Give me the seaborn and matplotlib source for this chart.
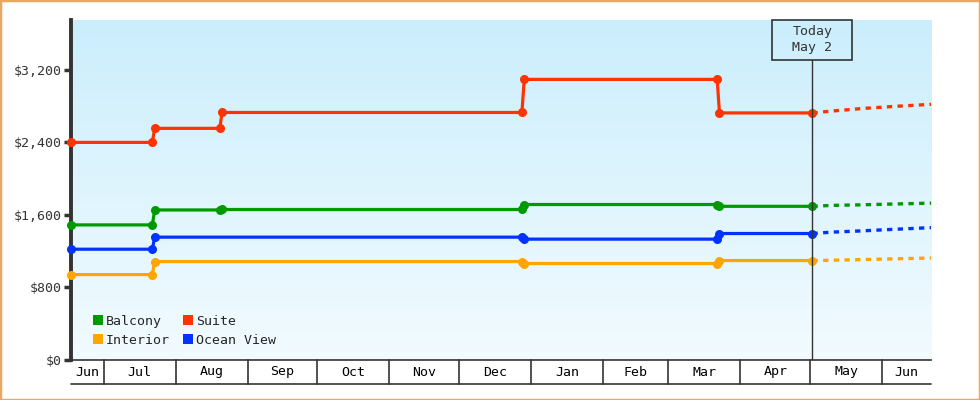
import numpy as np
import pandas as pd
import matplotlib
matplotlib.use("Agg")
import matplotlib.pyplot as plt
import matplotlib.transforms as mtransforms
from matplotlib.colors import LinearSegmentedColormap
from matplotlib.lines import Line2D
from matplotlib.patches import Rectangle
import seaborn as sns

# price history (change points) per cabin type
hist_dates = ['2024-06-17', '2024-07-22', '2024-07-23', '2024-08-20', '2024-08-21',
              '2024-12-28', '2024-12-29', '2025-03-22', '2025-03-23', '2025-05-02']
suite = [2400, 2400, 2555, 2555, 2730, 2730, 3095, 3095, 2725, 2725]
balcony = [1490, 1490, 1655, 1655, 1660, 1660, 1715, 1715, 1695, 1695]
ocean_view = [1222, 1222, 1355, None, None, 1355, 1333, 1333, 1395, 1395]
interior = [942, 942, 1086, None, None, 1086, 1064, 1064, 1097, 1097]

# forecast after today
fc_dates = ['2025-05-02', '2025-05-10', '2025-05-24', '2025-06-05', '2025-06-22']
suite_fc = [2725, 2745, 2775, 2795, 2820]
balcony_fc = [1695, 1705, 1712, 1720, 1730]
ocean_view_fc = [1395, 1410, 1425, 1440, 1460]
interior_fc = [1097, 1100, 1108, 1115, 1125]

today = pd.Timestamp('2025-05-02')
x_start, x_end = pd.Timestamp('2024-06-17'), pd.Timestamp('2025-06-22')
y_ticks = [0, 800, 1600, 2400, 3200]

colors = {'Balcony': '#009900', 'Interior': '#ffa500',
          'Suite': '#ff3300', 'Ocean View': '#0033ff'}
series = {'Suite': (suite, suite_fc), 'Balcony': (balcony, balcony_fc),
          'Ocean View': (ocean_view, ocean_view_fc), 'Interior': (interior, interior_fc)}

sns.set_style('white')
plt.rcParams['font.family'] = ['DejaVu Sans Mono', 'DejaVu Sans']
ink = '#333333'

fig = plt.figure(figsize=(9.8, 4), dpi=100)
fig.patches.append(Rectangle((0, 0), 1, 1, transform=fig.transFigure, fill=False,
                             ec='#e8a860', lw=2.5, zorder=10))
ax = fig.add_axes([71 / 980, 40 / 400, 860 / 980, 340 / 400])

# gradient background
cmap = LinearSegmentedColormap.from_list('bg', ['#cbeefc', '#f2fbff'])
ax.imshow(np.linspace(0, 1, 256).reshape(-1, 1), cmap=cmap, extent=[0, 1, 0, 1],
          transform=ax.transAxes, aspect='auto', zorder=0)

for name, (hist, fc) in series.items():
    df = pd.DataFrame({'date': pd.to_datetime(hist_dates), 'price': hist}).dropna()
    sns.lineplot(data=df, x='date', y='price', ax=ax, color=colors[name], lw=2.3,
                 marker='o', markersize=6.5, markeredgewidth=0, clip_on=False, zorder=3)
    dff = pd.DataFrame({'date': pd.to_datetime(fc_dates), 'price': fc})
    sns.lineplot(data=dff, x='date', y='price', ax=ax, color=colors[name], lw=2.4,
                 linestyle=(0, (1.6, 1.6)), zorder=3)

ax.set_xlim(x_start, x_end)
ax.set_ylim(0, 3750)
ax.set_xlabel(None)
ax.set_ylabel(None)
ax.set_xticks([])
ax.set_yticks(y_ticks)
ax.set_yticklabels([f'${v:,}' for v in y_ticks])
ax.tick_params(axis='y', length=5, width=2.5, color=ink, labelcolor=ink,
               labelsize=9.5, pad=2, left=True)
for side in ['top', 'right']:
    ax.spines[side].set_visible(False)
ax.spines['left'].set_linewidth(2.8)
ax.spines['left'].set_color(ink)
ax.spines['bottom'].set_linewidth(1.2)
ax.spines['bottom'].set_color(ink)

# month band under the axis
trans = mtransforms.blended_transform_factory(ax.transData, ax.transAxes)
band = -24 / 340
ax.plot([x_start, x_end], [band, band], transform=trans, color=ink, lw=1.2, clip_on=False)
bounds = pd.date_range('2024-07-01', '2025-06-01', freq='MS')
edges = [x_start] + list(bounds) + [x_end]
for b in bounds:
    ax.plot([b, b], [0, band], transform=trans, color=ink, lw=1.2, clip_on=False)
for a, b in zip(edges[:-1], edges[1:]):
    mid = a + (b - a) / 2
    ax.text(mid, band / 2, a.strftime('%b') if a != x_start else 'Jun', transform=trans,
            ha='center', va='center', fontsize=9.5, color='black')

# today marker
box_h = 40 / 340
ax.plot([today, today], [0, 1 - box_h], transform=trans, color=ink, lw=1, zorder=4)
ax.add_patch(Rectangle((today - pd.Timedelta(days=17.2), 1 - box_h), pd.Timedelta(days=34.4),
                       box_h, transform=trans, fill=False, ec=ink, lw=1.2, clip_on=False, zorder=4))
ax.text(today, 1 - box_h / 2, 'Today\nMay 2', transform=trans, ha='center', va='center',
        fontsize=9.5, color=ink, linespacing=1.3)

handles = [Line2D([], [], ls='none', marker='s', ms=7, mew=0, color=colors[n])
           for n in ['Balcony', 'Interior', 'Suite', 'Ocean View']]
ax.legend(handles, ['Balcony', 'Interior', 'Suite', 'Ocean View'], ncol=2, loc='lower left',
          bbox_to_anchor=(0.011, 0.003), frameon=False, fontsize=9.5, handlelength=0.8,
          handletextpad=0.2, columnspacing=1.0, labelspacing=0.5)

fig.savefig('out.png', dpi=100)
